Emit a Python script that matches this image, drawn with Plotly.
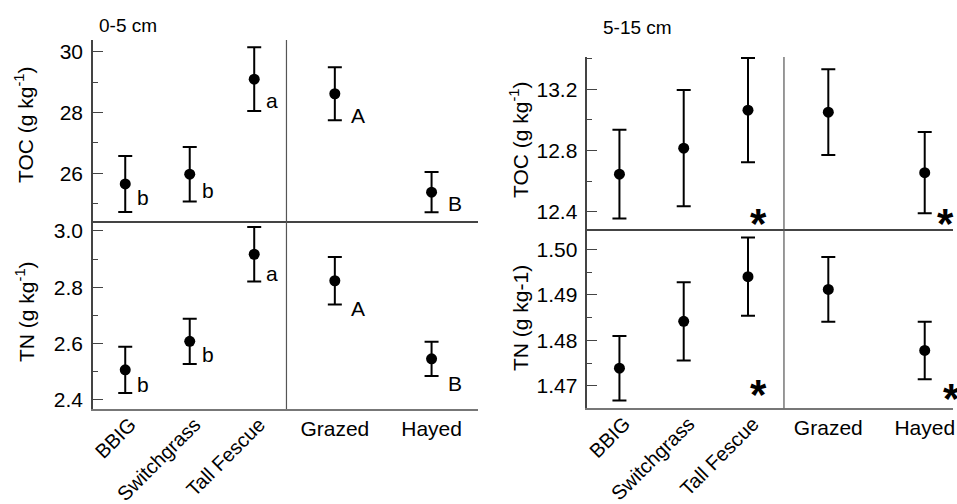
import plotly.graph_objects as go

W, H = 957, 504

categories = ["BBIG", "Switchgrass", "Tall Fescue", "Grazed", "Hayed"]
cat_pos = [1, 2, 3, 4.25, 5.75]

# 0-5 cm
toc_0_5 = [25.65, 25.97, 29.10, 28.62, 25.38]
toc_0_5_err = [0.92, 0.90, 1.05, 0.87, 0.66]
tn_0_5 = [2.507, 2.608, 2.917, 2.823, 2.546]
tn_0_5_err = [0.082, 0.080, 0.097, 0.084, 0.061]
toc_0_5_letters = ["b", "b", "a", "A", "B"]
toc_0_5_letter_y = [25.20, 25.44, 28.39, 27.90, 25.00]
tn_0_5_letters = ["b", "b", "a", "A", "B"]
tn_0_5_letter_y = [2.454, 2.560, 2.850, 2.726, 2.458]

# 5-15 cm
toc_5_15 = [12.645, 12.815, 13.063, 13.050, 12.655]
toc_5_15_err = [0.29, 0.38, 0.34, 0.28, 0.265]
tn_5_15 = [1.4739, 1.4842, 1.4940, 1.4912, 1.4778]
tn_5_15_err = [0.0071, 0.0086, 0.0086, 0.0071, 0.0063]
star_cats = ["Tall Fescue", "Hayed"]
toc_5_15_star_y = [12.39, 12.39]
tn_5_15_star_y = [1.4704, 1.4695]

FONT = "Liberation Sans, Arial, sans-serif"
AX = "#444444"
FS = 21

fig = go.Figure()

panels = [
    ("x", "y", toc_0_5, toc_0_5_err),
    ("x3", "y3", tn_0_5, tn_0_5_err),
    ("x2", "y2", toc_5_15, toc_5_15_err),
    ("x4", "y4", tn_5_15, tn_5_15_err),
]
for xa, ya, vals, errs in panels:
    fig.add_trace(go.Scatter(
        x=cat_pos, y=vals, mode="markers", xaxis=xa, yaxis=ya,
        marker=dict(size=11, color="black"),
        error_y=dict(type="data", array=errs, color="black", thickness=2, width=7),
        showlegend=False, hoverinfo="skip"))

xl_dom = [93 / W, 478 / W]
xr_dom = [587.3 / W, 953 / W]
yl_top = [1 - 221 / H, 1 - 40 / H]
yl_bot = [1 - 409 / H, 1 - 221 / H]
yr_top = [1 - 229.3 / H, 1 - 57 / H]
yr_bot = [1 - 408.3 / H, 1 - 229.3 / H]
xl_range = [0.5, 6.47]
xr_range = [0.5, 6.19]


def yax(dom, anchor, rng, dtick, mdtick, fmt):
    return dict(domain=dom, anchor=anchor, range=rng, showgrid=False, zeroline=False,
                showline=True, linecolor=AX, linewidth=1.5, automargin=False,
                ticks="inside", ticklen=10, tickwidth=1.2, tickcolor=AX, dtick=dtick,
                tickformat=fmt, ticklabelstandoff=4,
                tickfont=dict(size=FS, color="black", family=FONT),
                minor=dict(dtick=mdtick, ticks="inside", ticklen=5, tickwidth=1.2,
                           tickcolor=AX, showgrid=False))


def xax_top(dom, anchor, rng):
    return dict(domain=dom, anchor=anchor, range=rng, showgrid=False, zeroline=False,
                showline=True, linecolor=AX, linewidth=1.5, ticks="", automargin=False,
                showticklabels=False)


def xax_bot(dom, anchor, rng, vals, texts, angle, standoff, shift, size):
    return dict(domain=dom, anchor=anchor, range=rng, showgrid=False, zeroline=False,
                showline=True, linecolor="#777777", linewidth=2, ticks="",
                automargin=False,
                tickmode="array", tickvals=vals, ticktext=texts, tickangle=angle,
                ticklabelstandoff=standoff, ticklabelshift=shift,
                tickfont=dict(size=size, color="black", family=FONT))


fig.update_layout(
    width=W, height=H, margin=dict(l=0, r=0, t=0, b=0, autoexpand=False),
    paper_bgcolor="white", plot_bgcolor="white", showlegend=False,
    font=dict(family=FONT, color="black", size=FS),
    xaxis=xax_top(xl_dom, "y", xl_range),
    yaxis=yax(yl_top, "x", [24.43, 30.39], 2, 1, ""),
    xaxis2=xax_top(xr_dom, "y2", xr_range),
    yaxis2=yax(yr_top, "x2", [12.285, 13.41], 0.4, 0.2, ".1f"),
    xaxis3=xax_bot(xl_dom, "y3", xl_range, cat_pos[:3], categories[:3], -45, -6, 5, 20),
    yaxis3=yax(yl_bot, "x3", [2.368, 3.035], 0.2, 0.1, ".1f"),
    xaxis4=xax_bot(xr_dom, "y4", xr_range, cat_pos[:3], categories[:3], -45, -6, 5, 20),
    yaxis4=yax(yr_bot, "x4", [1.4651, 1.5044], 0.01, 0.005, ".2f"),
)
x5 = xax_bot(xl_dom, "y3", xl_range, cat_pos[3:], categories[3:], 0, 5, 0, FS)
x5.update(overlaying="x3", showline=False)
x6 = xax_bot(xr_dom, "y4", xr_range, cat_pos[3:], categories[3:], 0, 5, 0, FS)
x6.update(overlaying="x4", showline=False)
fig.update_layout(xaxis5=x5, xaxis6=x6)
fig.add_trace(go.Scatter(x=[None], y=[None], xaxis="x5", yaxis="y3", showlegend=False))
fig.add_trace(go.Scatter(x=[None], y=[None], xaxis="x6", yaxis="y4", showlegend=False))

# vertical separators between species and management groups
fig.add_shape(type="line", xref="x", yref="paper", x0=3.5, x1=3.5,
              y0=yl_bot[0], y1=yl_top[1], line=dict(color="#555555", width=1.2))
fig.add_shape(type="line", xref="x2", yref="paper", x0=3.56, x1=3.56,
              y0=yr_bot[0], y1=yr_top[1], line=dict(color="#555555", width=1.2))

ann = []
# significance letters
for letters, ly, xa, ya in [(toc_0_5_letters, toc_0_5_letter_y, "x", "y"),
                            (tn_0_5_letters, tn_0_5_letter_y, "x3", "y3")]:
    for i, (t, yv) in enumerate(zip(letters, ly)):
        off = 0.36 if t.isupper() else 0.28
        ann.append(dict(text=t, x=cat_pos[i] + off, y=yv, xref=xa, yref=ya,
                        showarrow=False, font=dict(size=FS, family=FONT)))
# asterisks (x offset in data units plus a pixel shift)
star_off_top = [(0.17, 0), (0.33, 0)]
star_off_bot = [(0.17, 0), (0.33, 6)]
for sy, xa, ya, offs in [(toc_5_15_star_y, "x2", "y2", star_off_top),
                         (tn_5_15_star_y, "x4", "y4", star_off_bot)]:
    for c, yv, (o, px) in zip(star_cats, sy, offs):
        ann.append(dict(text="<b>*</b>", x=cat_pos[categories.index(c)] + o, y=yv,
                        xref=xa, yref=ya, showarrow=False, yshift=-10, xshift=px,
                        font=dict(size=42, family=FONT)))
# axis titles
for txt, xp, yp in [("TOC (g kg<sup>-1</sup>)", 24, 125),
                    ("TN (g kg<sup>-1</sup>)", 25, 312),
                    ("TOC (g kg<sup>-1</sup>)", 519, 140),
                    ("TN (g kg-1)", 520, 318)]:
    ann.append(dict(text=txt, x=xp / W, y=1 - yp / H, xref="paper", yref="paper",
                    textangle=-90, showarrow=False, xanchor="center", yanchor="middle",
                    font=dict(size=FS, family=FONT)))
# depth headers
ann.append(dict(text="0-5 cm", x=128 / W, y=1 - 25 / H, xref="paper", yref="paper",
                xanchor="center", yanchor="middle",
                showarrow=False, font=dict(size=19, family=FONT)))
ann.append(dict(text="5-15 cm", x=637 / W, y=1 - 27 / H, xref="paper", yref="paper",
                xanchor="center", yanchor="middle",
                showarrow=False, font=dict(size=19, family=FONT)))
fig.update_layout(annotations=ann)

fig.write_html("out.html")
